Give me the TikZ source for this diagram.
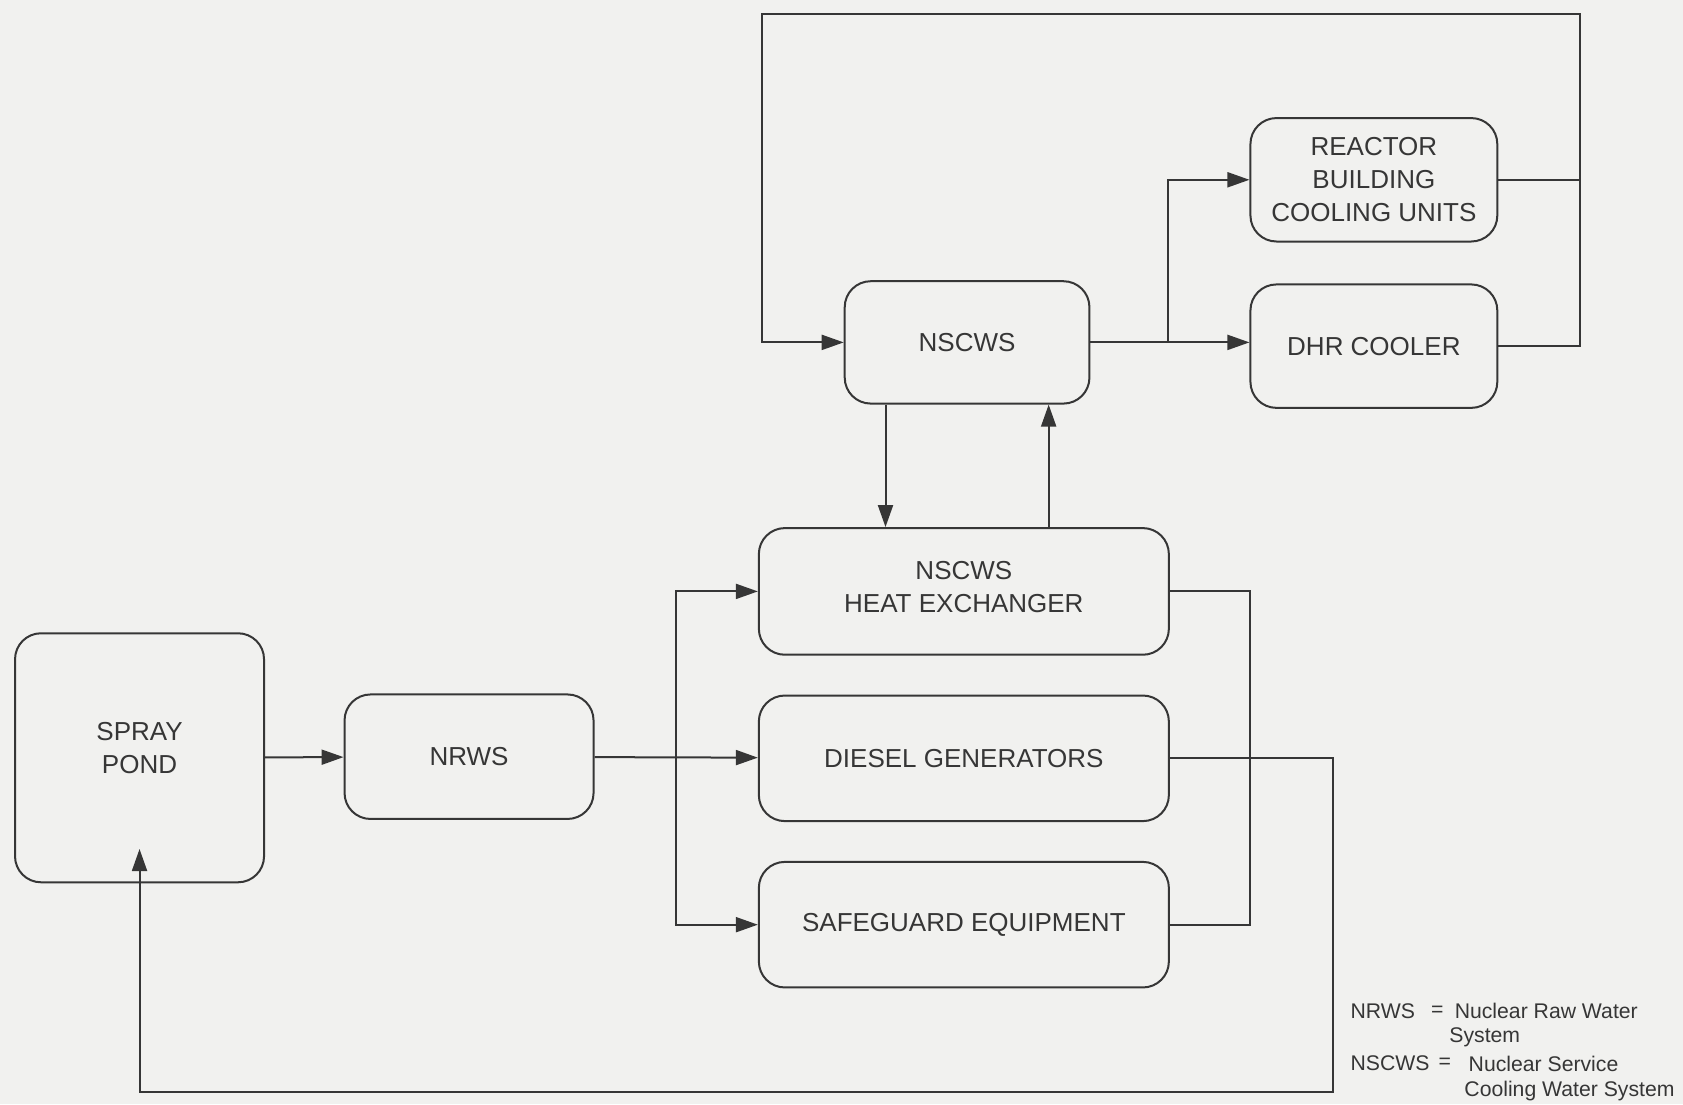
\documentclass[tikz,border=0pt]{standalone}
\usepackage{fontspec}
\setmainfont{Liberation Sans}
\usetikzlibrary{arrows.meta,calc}
\definecolor{ink}{HTML}{363636}
\definecolor{paper}{HTML}{F1F1EF}
\begin{document}
\begin{tikzpicture}[x=0.53665pt,y=-0.53665pt,
  box/.style 2 args={draw=ink, line width=1pt, rounded corners=13pt, align=center,
    font=\fontsize{13}{16.5}\selectfont, text=ink, inner sep=0pt,
    minimum width=#1*0.53665pt, minimum height=#2*0.53665pt},
  boxtext/.style={align=center, font=\fontsize{13}{16.5}\selectfont, text=ink, inner sep=0pt},
  conn/.style={draw=ink, line width=1pt},
  arr/.style={conn, -{Triangle[length=11pt,width=7.5pt]}},
  legend/.style={anchor=west, inner sep=0pt, text=ink, font=\fontsize{10.6}{12}\selectfont}]
\fill[paper] (0,0) rectangle (1568,1029);
\useasboundingbox (0,0) rectangle (1568,1029);

% boxes
\node[box={232}{232}] (pond)  at (130,706)   {};
\node[boxtext] (pondt) at (130,697) {SPRAY\\POND};
\node[box={232}{116}] (nrws)  at (437,705)   {NRWS};
\node[box={382}{118}] (hx)    at (898,551)   {};
\node[boxtext] (hxt) at (898,547) {NSCWS\\HEAT EXCHANGER};
\node[box={382}{117}] (dg)    at (898,706.5) {DIESEL GENERATORS};
\node[box={382}{117}] (sg)    at (898,861.5) {SAFEGUARD EQUIPMENT};
\node[box={228}{114}] (nscws) at (901,319)   {NSCWS};
\node[box={230}{115}] (rbcu)  at (1280,167.5){REACTOR\\BUILDING\\COOLING UNITS};
\node[box={230}{115}] (dhr)   at (1280,322.5){DHR COOLER};

% helper coordinates
\coordinate (j1) at (630,705);
\coordinate (r1) at (1165,551);
\coordinate (b1) at (1242,1017);
\coordinate (ptip) at (130,791);
\coordinate (j2) at (1088,319);
\coordinate (tr) at (1472,13);
\coordinate (tl) at (710,13);

% lower flow
\draw[arr] (pond) -- (nrws);
\draw[arr] (nrws) -- (dg);
\draw[arr] (j1) |- (hx.west);
\draw[arr] (j1) |- (sg.west);
\draw[conn] (hx.east) -- (r1) |- (sg.east);
\draw[arr] (dg.east) -| (b1) -| (ptip);

% NSCWS <-> heat exchanger
\draw[arr] ($(nscws.south)+(-76,0)$) coordinate (d1) -- (d1 |- hx.north);
\draw[arr] ($(hx.north)+(79,0)$) coordinate (u1) -- (u1 |- nscws.south);

% upper loop
\draw[arr] (nscws.east) -- (nscws.east -| dhr.west);
\draw[arr] (j2) |- (rbcu.west);
\draw[conn] (rbcu.east) -- (rbcu.east -| tr);
\draw[arr] (dhr.east) -| (tr) -- (tl) |- (nscws.west);

% legend
\node[legend] (l1a) at (1258,942) {NRWS};
\node[legend] (l1b) at (1333,942) {=};
\node[legend] (l1c) at (1355,942) {Nuclear Raw Water};
\node[legend] (l2)  at (1350,966) {System};
\node[legend] (l3a) at (1258,991) {NSCWS};
\node[legend] (l3b) at (1340,991) {=};
\node[legend] (l3c) at (1368,991) {Nuclear Service};
\node[legend] (l4)  at (1364,1016) {Cooling Water System};
\end{tikzpicture}
\end{document}
